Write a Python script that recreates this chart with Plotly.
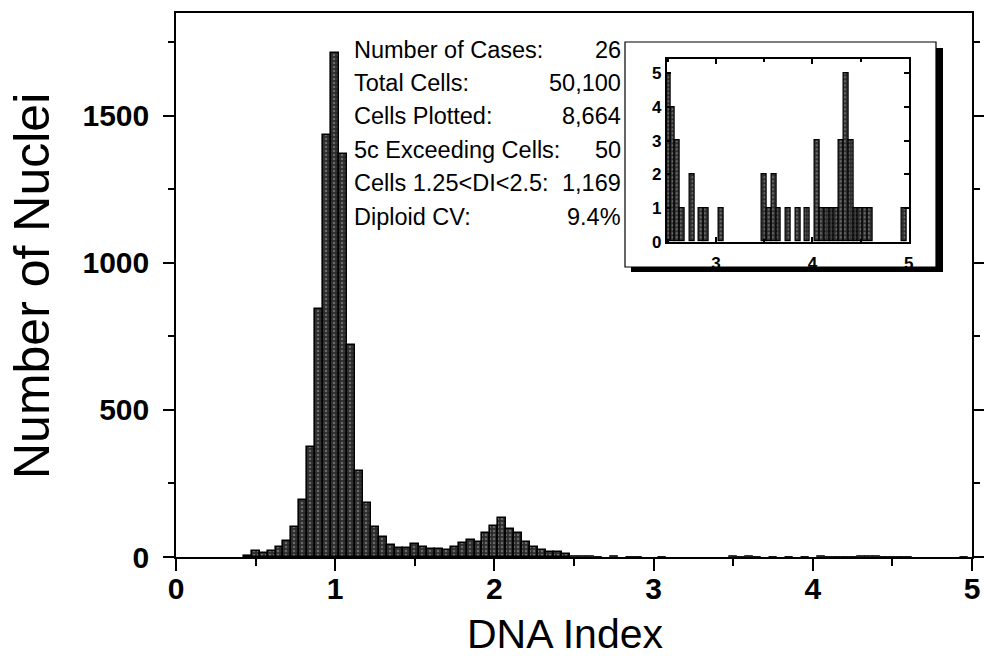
import plotly.graph_objects as go

# ---------------- data ----------------
# DNA index bin centres (bin width 0.05) and nuclei counts, main histogram
core_dna_index = [0.45, 0.5, 0.55, 0.6, 0.65, 0.7, 0.75, 0.8, 0.85, 0.9,
                  0.95, 1.0, 1.05, 1.1, 1.15, 1.2, 1.25, 1.3, 1.35, 1.4,
                  1.45, 1.5, 1.55, 1.6, 1.65, 1.7, 1.75, 1.8, 1.85, 1.9,
                  1.95, 2.0, 2.05, 2.1, 2.15, 2.2, 2.25, 2.3, 2.35, 2.4, 2.45]
core_counts = [2, 20, 14, 20, 35, 55, 103, 195, 373, 845,
               1434, 1714, 1372, 720, 291, 182, 103, 68, 40, 31,
               31, 43, 34, 26, 26, 24, 34, 48, 59, 52,
               83, 106, 131, 95, 83, 50, 33, 25, 18, 16, 9]

# tail (DI >= 2.5), shown in the inset
tail_dna_index = [2.5, 2.55, 2.6, 2.65, 2.75, 2.85, 2.9, 3.05, 3.5, 3.55,
                  3.6, 3.65, 3.75, 3.85, 3.95, 4.05, 4.1, 4.15, 4.2, 4.25,
                  4.3, 4.35, 4.4, 4.45, 4.5, 4.55, 4.6, 4.95]
tail_counts = [5, 4, 3, 1, 2, 1, 1, 1, 2, 1,
               2, 1, 1, 1, 1, 3, 1, 1, 1, 1,
               3, 5, 3, 1, 1, 1, 1, 1]

bin_width = 0.05

main_x_ticks = [0, 1, 2, 3, 4, 5]
main_y_ticks = [0, 500, 1000, 1500]
inset_x_ticks = [3, 4, 5]
inset_y_ticks = [0, 1, 2, 3, 4, 5]

stat_labels = ["Number of Cases:", "Total Cells:", "Cells Plotted:",
               "5c Exceeding Cells:", "Cells 1.25<DI<2.5:", "Diploid CV:"]
stat_values = ["26", "50,100", "8,664", "50", "1,169", "9.4%"]

# ---------------- layout helpers (pixel -> paper) ----------------
W, H = 984, 665


def fx(xp):
    return xp / W


def fy(yp):
    return (H - yp) / H


FONT = "Liberation Sans, Arial, Helvetica, sans-serif"

pattern = dict(shape=".", bgcolor="#2c2c2c", fgcolor="#a8a8a8",
               size=4, solidity=0.3)

all_x = core_dna_index + tail_dna_index
all_y = core_counts + tail_counts
# thinner outline for the tiny tail bars so they read as the baseline
main_line_w = [1.6] * len(core_dna_index) + [0.8] * len(tail_dna_index)

fig = go.Figure()
fig.add_trace(go.Bar(
    x=all_x, y=all_y, width=[bin_width] * len(all_x),
    marker=dict(color="#2c2c2c", pattern=pattern,
                line=dict(color="black", width=main_line_w)),
    xaxis="x", yaxis="y", showlegend=False, hoverinfo="x+y"))

fig.add_trace(go.Bar(
    x=tail_dna_index, y=tail_counts, width=[bin_width] * len(tail_dna_index),
    marker=dict(color="#2c2c2c", pattern=pattern,
                line=dict(color="black", width=1.2)),
    xaxis="x2", yaxis="y2", showlegend=False, hoverinfo="x+y"))

axis_common = dict(showgrid=False, zeroline=False, showline=True,
                   linecolor="black", linewidth=1.5, tickcolor="black",
                   tickwidth=1.5, automargin=False)

annotations = []
# statistics block
line_y = [50, 83.3, 116.5, 150, 183.3, 216.7]
for lab, val, yy in zip(stat_labels, stat_values, line_y):
    annotations.append(dict(x=fx(352), y=fy(yy), xref="paper", yref="paper",
                            text=lab, showarrow=False, xanchor="left",
                            yanchor="middle",
                            font=dict(family=FONT, size=23.5, color="black")))
    annotations.append(dict(x=fx(623), y=fy(yy), xref="paper", yref="paper",
                            text=val, showarrow=False, xanchor="right",
                            yanchor="middle",
                            font=dict(family=FONT, size=23.5, color="black")))

# axis titles
annotations.append(dict(x=fx(565), y=fy(634), xref="paper", yref="paper",
                        text="DNA Index", showarrow=False, xanchor="center",
                        yanchor="middle",
                        font=dict(family=FONT, size=41, color="black")))
annotations.append(dict(x=fx(32), y=fy(286), xref="paper", yref="paper",
                        text="Number of Nuclei", showarrow=False, textangle=-90,
                        xanchor="center", yanchor="middle",
                        font=dict(family=FONT, size=50, color="black")))

shapes = [
    # inset shadow
    dict(type="rect", xref="paper", yref="paper", layer="below",
         x0=fx(631), x1=fx(943), y0=fy(272), y1=fy(48),
         fillcolor="black", line=dict(width=0)),
    # inset frame
    dict(type="rect", xref="paper", yref="paper", layer="below",
         x0=fx(625), x1=fx(936), y0=fy(267), y1=fy(42),
         fillcolor="white", line=dict(color="black", width=1.2)),
]

fig.update_layout(
    width=W, height=H,
    margin=dict(l=0, r=0, t=0, b=0, autoexpand=False),
    paper_bgcolor="white", plot_bgcolor="white",
    bargap=0, barmode="overlay",
    showlegend=False,
    xaxis=dict(**axis_common, range=[0, 5], tickvals=main_x_ticks,
               ticks="outside", ticklen=12, mirror=True,
               minor=dict(dtick=0.5, ticklen=7, tickcolor="black",
                          tickwidth=1.5, ticks="outside"),
               ticklabelstandoff=-8,
               tickfont=dict(family=FONT, size=30, color="black",
                             weight="bold"),
               domain=[fx(176), fx(972)], anchor="y"),
    yaxis=dict(**axis_common, range=[0, 1850], tickvals=main_y_ticks,
               ticks="outside", ticklen=11, mirror="ticks",
               minor=dict(dtick=250, ticklen=6, tickcolor="black",
                          tickwidth=1.5, ticks="outside"),
               ticklabelstandoff=8,
               tickfont=dict(family=FONT, size=30, color="black",
                             weight="bold"),
               domain=[fy(557), fy(13)], anchor="x"),
    xaxis2=dict(**axis_common, range=[2.488, 5.0], tickvals=inset_x_ticks,
                ticks="inside", ticklen=5, mirror="allticks",
                minor=dict(dtick=0.5, ticklen=3, tickcolor="black",
                           ticks="inside"),
                ticklabelstandoff=5,
                tickfont=dict(family=FONT, size=17, color="black",
                              weight="bold"),
                domain=[fx(666.7), fx(908.7)], anchor="y2"),
    yaxis2=dict(**axis_common, range=[0, 5.42], tickvals=inset_y_ticks,
                ticks="inside", ticklen=5, mirror="allticks",
                tickfont=dict(family=FONT, size=17, color="black",
                              weight="bold"),
                domain=[fy(241.7), fy(59.3)], anchor="x2"),
    annotations=annotations,
    shapes=shapes,
)

fig.write_html("out.html")
